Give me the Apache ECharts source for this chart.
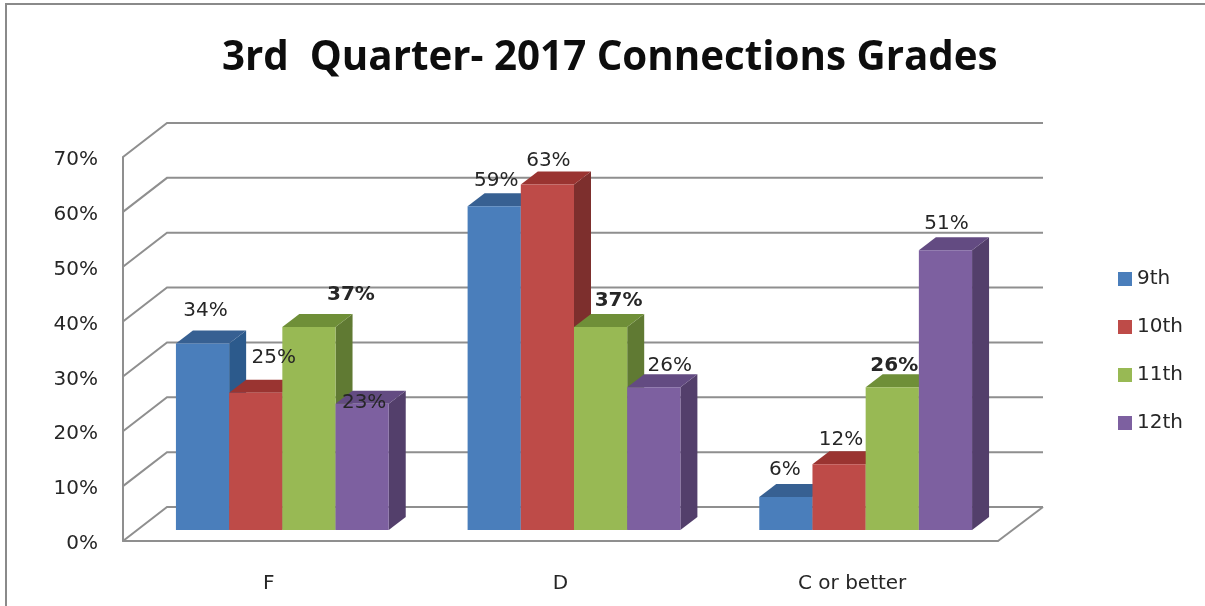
<!DOCTYPE html>
<html>
<head>
<meta charset="utf-8">
<style>
  html, body { margin: 0; padding: 0; background: #fff; }
  #chart { width: 1205px; height: 606px; }
</style>
<script src="https://cdn.jsdelivr.net/npm/echarts@6/dist/echarts.min.js"></script>
</head>
<body>
<div id="chart"></div>
<script>
// data
var categories = ['F', 'D', 'C or better'];
var grades = ['9th', '10th', '11th', '12th'];
var values9th = [34, 59, 6];
var values10th = [25, 63, 12];
var values11th = [37, 37, 26];
var values12th = [23, 26, 51];
var yTicks = [0, 10, 20, 30, 40, 50, 60, 70];

var gradeValues = [values9th, values10th, values11th, values12th];

// front, top and side colour of each grade
var front = ['#4a7ebb', '#be4b48', '#98b954', '#7d60a0'];
var top_ = ['#376092', '#9a3431', '#6f8f38', '#634b82'];
var side = ['#2c5a8c', '#7d2f2d', '#607a33', '#533f6b'];

// 3d look
var wallDx = 44, wallDy = -34;
var planeDx = 13.5, planeDy = -11;
var depthDx = 17, depthDy = -13;
var barW = 53.2;

// hand placed labels, [dx from bar centre, dy from bar top], per grade then category
var labelShift = [
  [[3, -33], [2, -26], [-1, -27]],
  [[18, -35], [1, -24], [2, -24]],
  [[42, -32], [18, -26], [2, -22]],
  [[2, -1], [16, -22], [1, -26]]
];

var axisFont = 'DejaVu Sans';

function barBox(api, gradeIdx) {
  var cat = api.value(0);
  var val = api.value(1);
  var p = api.coord([cat, val]);
  var base = api.coord([cat, 0]);
  var x = p[0] + planeDx + (gradeIdx - 2) * barW;
  return { x: x, top: p[1] + planeDy, bottom: base[1] + planeDy };
}

function renderWall(params, api) {
  var cs = params.coordSys;
  var y = api.coord([0, api.value(1)])[1];
  var xl = cs.x, xr = cs.x + cs.width;
  var style = { stroke: '#8f8f8f', lineWidth: 2, fill: null };
  var children = [{
    type: 'polyline',
    shape: { points: [[xl, y], [xl + wallDx, y + wallDy], [xr + 45, y + wallDy]] },
    style: style
  }];
  if (api.value(1) === 0) {
    children.push({
      type: 'line',
      shape: { x1: xr, y1: y, x2: xr + 45, y2: y + wallDy },
      style: style
    });
  }
  return { type: 'group', children: children };
}

function renderBar(gradeIdx) {
  return function (params, api) {
    var b = barBox(api, gradeIdx);
    var r = b.x + barW;
    return {
      type: 'group',
      children: [
        {
          type: 'polygon',
          shape: { points: [[r, b.top], [r + depthDx, b.top + depthDy], [r + depthDx, b.bottom + depthDy], [r, b.bottom]] },
          style: { fill: side[gradeIdx] }
        },
        {
          type: 'polygon',
          shape: { points: [[b.x, b.top], [b.x + depthDx, b.top + depthDy], [r + depthDx, b.top + depthDy], [r, b.top]] },
          style: { fill: top_[gradeIdx] }
        },
        {
          type: 'rect',
          shape: { x: b.x, y: b.top, width: barW, height: b.bottom - b.top },
          style: { fill: front[gradeIdx] }
        }
      ]
    };
  };
}

function renderLabel(gradeIdx) {
  return function (params, api) {
    var b = barBox(api, gradeIdx);
    var shift = labelShift[gradeIdx][api.value(0)];
    return {
      type: 'text',
      x: b.x + barW / 2 + shift[0],
      y: b.top + shift[1],
      style: {
        text: api.value(1) + '%',
        fill: '#262626',
        font: (gradeIdx === 2 ? 'bold ' : '') + '20px "' + axisFont + '"',
        align: 'center',
        verticalAlign: 'middle'
      }
    };
  };
}

var series = [{
  type: 'custom',
  silent: true,
  z: 1,
  renderItem: renderWall,
  data: yTicks.map(function (v) { return [0, v]; })
}];

grades.forEach(function (name, k) {
  series.push({
    name: name,
    type: 'custom',
    z: 2 + k,
    itemStyle: { color: front[k] },
    renderItem: renderBar(k),
    data: gradeValues[k].map(function (v, i) { return [i, v]; })
  });
});
grades.forEach(function (name, k) {
  series.push({
    type: 'custom',
    silent: true,
    z: 10,
    renderItem: renderLabel(k),
    data: gradeValues[k].map(function (v, i) { return [i, v]; })
  });
});

var myChart = echarts.init(document.getElementById('chart'));
myChart.setOption({
  animation: false,
  backgroundColor: '#fff',
  title: {
    text: '3rd  Quarter- 2017 Connections Grades',
    left: 217,
    top: 34,
    textStyle: { fontFamily: 'Open Sans', fontWeight: 'bold', fontSize: 40.3, color: '#0d0d0d' }
  },
  legend: {
    data: grades,
    orient: 'vertical',
    left: 1113,
    top: 264,
    itemWidth: 14,
    itemHeight: 14,
    itemGap: 28,
    icon: 'rect',
    textStyle: { fontFamily: axisFont, fontSize: 20, color: '#262626' }
  },
  grid: { left: 123, top: 157, width: 875, height: 384 },
  xAxis: {
    type: 'category',
    data: categories,
    axisTick: { show: false },
    axisLine: { lineStyle: { color: '#8f8f8f', width: 2 } },
    axisLabel: { margin: 33, fontFamily: axisFont, fontSize: 20, color: '#262626' }
  },
  yAxis: {
    type: 'value',
    min: 0,
    max: 70,
    interval: 10,
    splitLine: { show: false },
    axisTick: { show: false },
    axisLine: { show: true, lineStyle: { color: '#8f8f8f', width: 2 } },
    axisLabel: {
      margin: 25,
      formatter: '{a|{value}%}',
      rich: { a: { padding: [6, 0, 0, 0], fontFamily: axisFont, fontSize: 20, color: '#262626' } }
    }
  },
  graphic: [{
    type: 'polyline',
    silent: true,
    shape: { points: [[6, 606], [6, 4], [1205, 4]] },
    style: { stroke: '#8a8a8a', lineWidth: 2, fill: null }
  }],
  series: series
});
</script>
</body>
</html>
